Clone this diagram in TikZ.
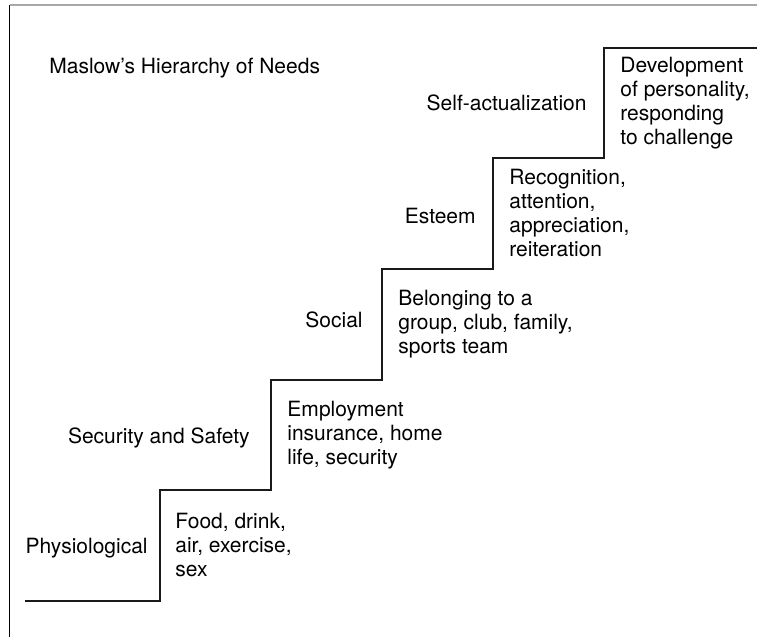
\documentclass[tikz,border=0pt]{standalone}
\usepackage{fontspec}
\setmainfont{TeX Gyre Heros}
\definecolor{FrameGray}{HTML}{A8A8A8}
\definecolor{StairBlack}{HTML}{1A1A1A}
\usepackage{tikz}
\usetikzlibrary{positioning}

\begin{document}
\begin{tikzpicture}[
  x=0.5pt, y=-0.5pt,
  frame/.style={line width=0.6pt},
  stair/.style={draw=StairBlack, line width=0.9pt},
  need/.style={font=\fontsize{10.5}{12}\selectfont, inner sep=0pt, anchor=base east},
  means/.style={font=\fontsize{10.5}{12}\selectfont, inner sep=0pt, anchor=west, align=left},
]
\useasboundingbox (0,0) rectangle (757,637);
% frame
\draw[frame, draw=FrameGray] (9.5,5) -- (757,5);
\draw[frame, draw=black] (9.5,5) -- (9.5,637);

% staircase
\draw[stair] (25,601) -- (160,601) -- (160,490) -- (271,490) -- (271,380)
  -- (382,380) -- (382,269) -- (493,269) -- (493,158) -- (604,158)
  -- (604,48) -- (757,48);

\node[need, anchor=base west] (title) at (49,74) {Maslow’s Hierarchy of Needs};

% needs, left of each riser
\node[need] (phys) at (148,553) {Physiological};
\node[need] (safe) at (250,443) {Security and Safety};
\node[need] (soc)  at (363,327) {Social};
\node[need] (est)  at (476,223) {Esteem};
\node[need] (self) at (587,111) {Self-actualization};

% what meets them, right of each riser
\node[means] (physm) at (175,545.5) {Food, drink,\\air, exercise,\\sex};
\node[means] (safem) at (287,435) {Employment\\insurance, home\\life, security};
\node[means] (socm)  at (398,324.5) {Belonging to a\\group, club, family,\\sports team};
\node[means] (estm)  at (509,213.5) {Recognition,\\attention,\\appreciation,\\reiteration};
\node[means] (selfm) at (620,103) {Development\\of personality,\\responding\\to challenge};
\end{tikzpicture}
\end{document}
